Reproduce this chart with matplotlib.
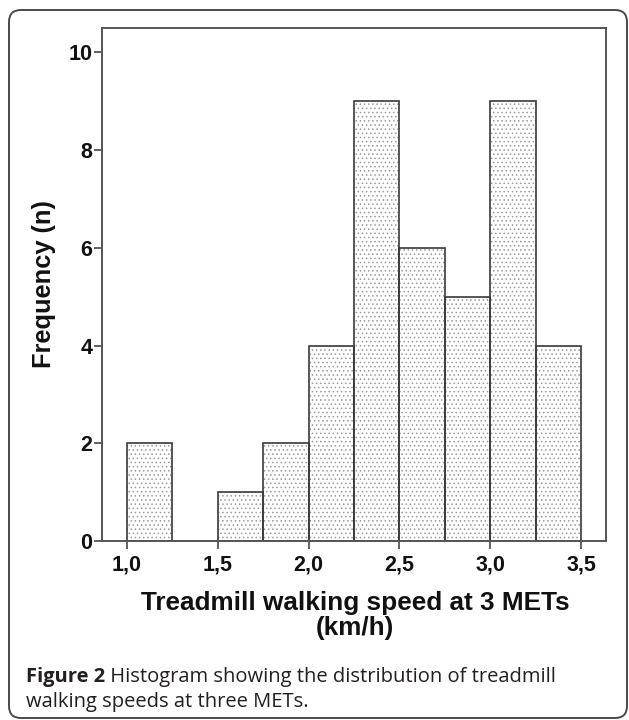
import matplotlib
matplotlib.use('Agg')
import matplotlib.pyplot as plt
from matplotlib.patches import FancyBboxPatch
from matplotlib.transforms import IdentityTransform

# ---- data ----
bin_left_edges = [1.00, 1.25, 1.50, 1.75, 2.00, 2.25, 2.50, 2.75, 3.00, 3.25]
counts = [2, 0, 1, 2, 4, 9, 6, 5, 9, 4]
bin_width = 0.25
x_ticks = [1.0, 1.5, 2.0, 2.5, 3.0, 3.5]
x_tick_labels = ['1,0', '1,5', '2,0', '2,5', '3,0', '3,5']
y_ticks = [0, 2, 4, 6, 8, 10]
y_tick_labels = ['0', '2', '4', '6', '8', '10']

plt.rcParams['font.family'] = ['Liberation Sans', 'DejaVu Sans']
plt.rcParams['hatch.linewidth'] = 0.6

W, H = 629, 720
fig = plt.figure(figsize=(W / 100, H / 100), dpi=100)
fig.patch.set_facecolor('white')

# outer rounded frame
frame = FancyBboxPatch((9, 2), 618, 708, boxstyle='round,pad=0,rounding_size=12',
                       transform=IdentityTransform(), fill=False,
                       edgecolor='#4a4a4a', linewidth=1.4)
fig.patches.append(frame)

ax = fig.add_axes([102 / W, 1 - 541 / H, (606 - 102) / W, (541 - 28) / H])
axis_color = '#555555'

# dotted fill layer
ax.bar(bin_left_edges, counts, width=bin_width, align='edge',
       facecolor='white', edgecolor='#9a9a9a', linewidth=0, hatch='....', zorder=2)
# outline layer
ax.bar(bin_left_edges, counts, width=bin_width, align='edge',
       fill=False, edgecolor='#3a3a3a', linewidth=1.2, zorder=3)

ax.set_xlim(0.863, 3.637)
ax.set_ylim(0, 10.5)
ax.set_xticks(x_ticks)
ax.set_xticklabels(x_tick_labels)
ax.set_yticks(y_ticks)
ax.set_yticklabels(y_tick_labels)

for s in ax.spines.values():
    s.set_color(axis_color)
    s.set_linewidth(1.4)
    s.set_zorder(4)
ax.tick_params(direction='out', length=6, width=1.3, color=axis_color,
               labelsize=15.5, labelcolor='#111111', pad=4)
for lab in ax.get_xticklabels() + ax.get_yticklabels():
    lab.set_fontweight('bold')
ax.tick_params(axis='y', pad=1)

# axis labels
fig.text(355 / W, 1 - 603 / H, 'Treadmill walking speed at 3 METs',
         ha='center', va='center', fontsize=18.8, fontweight='bold', color='#111111')
fig.text(355 / W, 1 - 628 / H, '(km/h)',
         ha='center', va='center', fontsize=18.8, fontweight='bold', color='#111111')
fig.text(44 / W, 1 - 284 / H, 'Frequency (n)', rotation=90,
         ha='center', va='center', fontsize=18.3, fontweight='bold', color='#111111')

# caption
cap_color = '#231f20'
cap_font = ['Open Sans', 'DejaVu Sans']
cap_size = 14.5
t1 = fig.text(26 / W, 1 - 682 / H, 'Figure 2', family=cap_font, fontsize=cap_size,
              fontweight='bold', color=cap_color, va='baseline', ha='left')
ax.annotate(' Histogram showing the distribution of treadmill', xy=(1, 0),
            xycoords=t1, va='bottom', ha='left', family=cap_font, fontsize=cap_size,
            color=cap_color, annotation_clip=False)
fig.text(26 / W, 1 - 707 / H, 'walking speeds at three METs.', family=cap_font,
         fontsize=cap_size, color=cap_color, va='baseline', ha='left')

fig.savefig('out.png', dpi=100)
